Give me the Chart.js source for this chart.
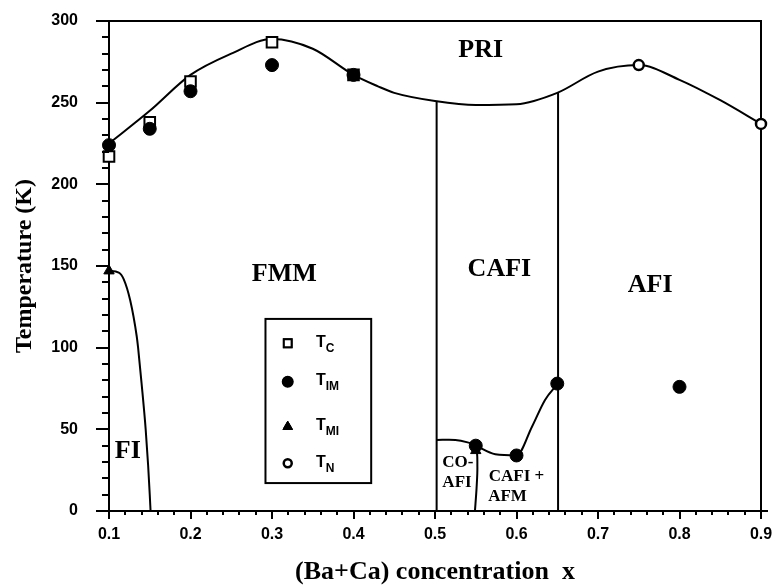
<!DOCTYPE html>
<html>
<head>
<meta charset="utf-8">
<script src="https://cdn.jsdelivr.net/npm/chart.js@4.4.1/dist/chart.umd.min.js"></script>
<style>
  body { margin: 0; background: #fff; }
  #wrap { width: 774px; height: 585px; }
</style>
</head>
<body>
<div id="wrap"><canvas id="diagrama" width="774" height="585"></canvas></div>
<script>
// pontos medidos (x = concentracao, T em K)
var tcX = [0.1, 0.15, 0.2, 0.3, 0.4];
var tcT = [217, 238, 263, 287, 267];
var timX = [0.1, 0.15, 0.2, 0.3, 0.4, 0.55, 0.6, 0.65, 0.8];
var timT = [224, 234, 257, 273, 267, 40, 34, 78, 76];
var tmiX = [0.1, 0.55];
var tmiT = [147, 37];
var tnX = [0.75, 0.9];
var tnT = [273, 237];

// linhas de fronteira
var prX = [0.1, 0.15, 0.2, 0.25, 0.3, 0.35, 0.4, 0.43, 0.45, 0.5, 0.55, 0.6, 0.65, 0.7, 0.75, 0.8, 0.85, 0.9];
var prT = [225, 245, 267, 280, 289, 283, 267, 260, 256, 251, 248.5, 249, 256, 269, 273, 264, 251.5, 237];
var fiX = [0.1, 0.112, 0.118, 0.126, 0.134, 0.1357, 0.14, 0.145, 0.148, 0.15, 0.151];
var fiT = [147, 146, 142, 129, 107, 100, 78, 50, 28, 10, 0];
var coX = [0.502, 0.525, 0.54, 0.55, 0.552, 0.551, 0.549];
var coT = [43.5, 43.5, 42, 40, 27, 14, 0];
var cafmX = [0.55, 0.574, 0.6, 0.619, 0.635, 0.65];
var cafmT = [40, 34.7, 34, 51.6, 68, 77.6];
var cafiLinhaX = [0.502, 0.502];
var cafiLinhaT = [0, 251];
var afiLinhaX = [0.651, 0.651];
var afiLinhaT = [0, 256];

// rotulos de fase
var fases = ['PRI', 'FMM', 'CAFI', 'AFI', 'FI', 'CO-', 'AFI', 'CAFI +', 'AFM'];
var xTicks = [0.1, 0.2, 0.3, 0.4, 0.5, 0.6, 0.7, 0.8, 0.9];
var yTicks = [0, 50, 100, 150, 200, 250, 300];

function pares(xs, ys) {
    return xs.map(function (x, i) { return { x: x, y: ys[i] }; });
}

function linha(xs, ys, tensao, modo) {
    return {
        type: 'line',
        data: pares(xs, ys),
        borderColor: '#000',
        borderWidth: 2,
        pointRadius: 0,
        fill: false,
        clip: false,
        tension: tensao,
        cubicInterpolationMode: modo || 'default'
    };
}

var posFases = [
    { x: 0.556, y: 282, s: 26 },
    { x: 0.315, y: 145, s: 26 },
    { x: 0.579, y: 148, s: 26 },
    { x: 0.764, y: 138.5, s: 26 },
    { x: 0.123, y: 36.7, s: 26 },
    { x: 0.528, y: 29.4, s: 17 },
    { x: 0.527, y: 17.1, s: 17 },
    { x: 0.600, y: 21, s: 17 },
    { x: 0.589, y: 8.9, s: 17 }
];

// ticks menores/maiores e textos
var pluginDesenho = {
    id: 'desenho',
    afterDraw: function (chart) {
        var ctx = chart.ctx;
        var sx = chart.scales.x, sy = chart.scales.y;
        var area = chart.chartArea;
        ctx.save();
        ctx.strokeStyle = '#000';
        ctx.lineWidth = 2;
        ctx.beginPath();
        for (var v = 0; v <= 300; v += 10) {
            var py = Math.round(sy.getPixelForValue(v));
            var len = (v % 50 === 0) ? 13 : 7;
            ctx.moveTo(area.left - len, py);
            ctx.lineTo(area.left, py);
        }
        for (var i = 0; i <= 40; i++) {
            var px = Math.round(sx.getPixelForValue(0.1 + i * 0.02));
            var l2 = (i % 5 === 0) ? 8 : 4;
            ctx.moveTo(px, area.bottom);
            ctx.lineTo(px, area.bottom + l2);
        }
        ctx.moveTo(area.right, area.bottom);
        ctx.lineTo(area.right + 7, area.bottom);
        ctx.stroke();

        // rotulos de fase
        ctx.fillStyle = '#000';
        ctx.textAlign = 'center';
        ctx.textBaseline = 'middle';
        fases.forEach(function (t, k) {
            var p = posFases[k];
            ctx.font = 'bold ' + p.s + 'px "Liberation Serif", serif';
            ctx.fillText(t, sx.getPixelForValue(p.x), sy.getPixelForValue(p.y));
        });

        // legenda em caixa
        var x0 = sx.getPixelForValue(0.292), x1 = sx.getPixelForValue(0.4217);
        var y0 = sy.getPixelForValue(117.6), y1 = sy.getPixelForValue(17.1);
        ctx.lineWidth = 2;
        ctx.strokeRect(x0, y0, x1 - x0, y1 - y0);
        var itens = [
            { ds: 1, sub: 'C', t: 102.7 },
            { ds: 0, sub: 'IM', t: 79.2 },
            { ds: 2, sub: 'MI', t: 51.6 },
            { ds: 3, sub: 'N', t: 29.2 }
        ];
        var simX = sx.getPixelForValue(0.3193);
        var txtX = sx.getPixelForValue(0.354);
        itens.forEach(function (it) {
            var d = chart.data.datasets[it.ds];
            var py = sy.getPixelForValue(it.t);
            Chart.helpers.drawPoint(ctx, {
                pointStyle: d.pointStyle,
                radius: d.legendRadius,
                borderWidth: d.borderWidth
            }, simX, py);
            ctx.fillStyle = d.legendFill;
            ctx.strokeStyle = '#000';
            ctx.lineWidth = d.borderWidth;
            ctx.fill();
            ctx.stroke();
            ctx.fillStyle = '#000';
            ctx.textAlign = 'left';
            ctx.textBaseline = 'middle';
            ctx.font = 'bold 16px "Liberation Sans", sans-serif';
            ctx.fillText('T', txtX, py - 1);
            var w = ctx.measureText('T').width;
            ctx.font = 'bold 12px "Liberation Sans", sans-serif';
            ctx.fillText(it.sub, txtX + w, py + 5);
        });
        ctx.restore();
    }
};

function semFolga(s) {
    s.paddingTop = 0;
    s.paddingBottom = 0;
    s.paddingLeft = 0;
    s.paddingRight = 0;
}

var eixoBase = {
    type: 'linear',
    grid: { display: false, drawTicks: false },
    border: { display: true, color: '#000', width: 2 }
};

new Chart(document.getElementById('diagrama'), {
    type: 'scatter',
    data: {
        datasets: [
            {
                label: 'TIM', data: pares(timX, timT), pointStyle: 'circle', clip: false,
                pointRadius: 6.5, borderWidth: 1, borderColor: '#000',
                backgroundColor: '#000', legendRadius: 5, legendFill: '#000'
            },
            {
                label: 'Tc', data: pares(tcX, tcT), pointStyle: 'rect', clip: false,
                pointRadius: 7.5, borderWidth: 2, borderColor: '#000',
                backgroundColor: ['#fff', '#fff', '#fff', '#fff', '#000'],
                legendRadius: 5.5, legendFill: '#fff'
            },
            {
                label: 'TMI', data: pares(tmiX, tmiT), pointStyle: 'triangle', clip: false,
                pointRadius: 6, borderWidth: 1, borderColor: '#000',
                backgroundColor: '#000', legendRadius: 5.5, legendFill: '#000'
            },
            {
                label: 'TN', data: pares(tnX, tnT), pointStyle: 'circle', clip: false,
                pointRadius: 5, borderWidth: 2.5, borderColor: '#000',
                backgroundColor: '#fff', legendRadius: 4, legendFill: '#fff'
            },
            linha(prX, prT, 0.4, 'monotone'),
            linha(fiX, fiT, 0.4, 'monotone'),
            linha(coX, coT, 0.3),
            linha(cafmX, cafmT, 0.4, 'monotone'),
            linha(cafiLinhaX, cafiLinhaT, 0),
            linha(afiLinhaX, afiLinhaT, 0)
        ]
    },
    options: {
        responsive: false,
        animation: false,
        layout: { padding: { top: 21, right: 13, left: 0, bottom: 0 } },
        plugins: { legend: { display: false }, tooltip: { enabled: false } },
        scales: {
            x: Object.assign({}, eixoBase, {
                position: 'bottom', min: 0.1, max: 0.9,
                afterBuildTicks: function (s) { s.ticks = xTicks.map(function (v) { return { value: v }; }); },
                afterFit: function (s) { s.height = 74; semFolga(s); },
                ticks: {
                    color: '#000', padding: 14,
                    font: { family: '"Liberation Sans", sans-serif', size: 16, weight: 'bold' },
                    callback: function (v) { return Number(v).toFixed(1); }
                },
                title: {
                    display: true, text: '(Ba+Ca) concentration  x', color: '#000',
                    font: { family: '"Liberation Serif", serif', size: 26, weight: 'bold', lineHeight: 1 },
                    padding: { top: 0, bottom: 0 }
                }
            }),
            y: Object.assign({}, eixoBase, {
                position: 'left', min: 0, max: 300,
                afterBuildTicks: function (s) { s.ticks = yTicks.map(function (v) { return { value: v }; }); },
                afterFit: function (s) { s.width = 109; semFolga(s); },
                ticks: {
                    color: '#000', padding: 31,
                    font: { family: '"Liberation Sans", sans-serif', size: 16, weight: 'bold' }
                },
                title: {
                    display: true, text: 'Temperature (K)', color: '#000',
                    font: { family: '"Liberation Serif", serif', size: 24, weight: 'bold', lineHeight: 1.2 },
                    padding: { top: 10, bottom: 0 }
                }
            }),
            x2: Object.assign({}, eixoBase, {
                position: 'top', min: 0.1, max: 0.9,
                ticks: { display: false },
                afterFit: function (s) { s.height = 0; semFolga(s); }
            }),
            y2: Object.assign({}, eixoBase, {
                position: 'right', min: 0, max: 300,
                ticks: { display: false },
                afterFit: function (s) { s.width = 0; semFolga(s); }
            })
        }
    },
    plugins: [pluginDesenho]
});
</script>
</body>
</html>
